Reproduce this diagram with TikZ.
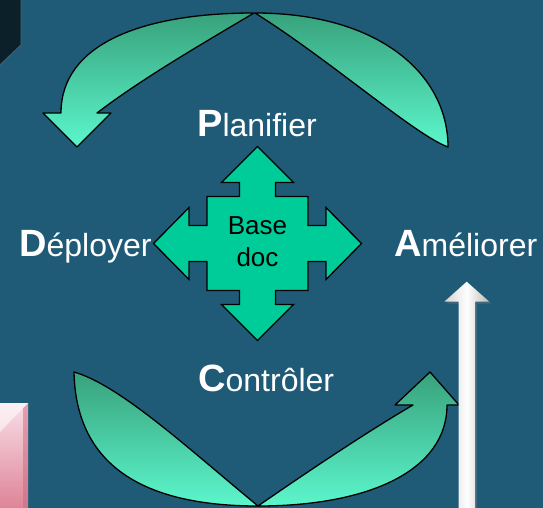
\documentclass[tikz,border=0pt]{standalone}
\usepackage{fontspec}
\setmainfont{Liberation Sans}
\usetikzlibrary{shadows}
\definecolor{bgc}{RGB}{31,91,119}
\definecolor{darkc}{RGB}{12,32,42}
\definecolor{crossc}{RGB}{0,204,153}
\definecolor{gtop}{RGB}{56,162,124}
\definecolor{gbot}{RGB}{92,246,204}
\definecolor{pinktop}{RGB}{248,222,230}
\definecolor{pinkbot}{RGB}{222,132,152}
\definecolor{pinkside}{RGB}{205,120,140}
\tikzset{
  leaf/.style={draw=black, line width=1.3pt, line join=round, top color=gtop, bottom color=gbot},
  crossbox/.style={draw=black, line width=1.3pt, line join=miter, fill=crossc},
  lbl/.style={text=white, inner sep=0pt, anchor=base west, font=\fontsize{32}{32}\selectfont},
  basetxt/.style={text=black, inner sep=0pt, anchor=base, font=\fontsize{26}{26}\selectfont},
}
\newcommand{\bigletter}[1]{{\bfseries\fontsize{38}{38}\selectfont #1}}
\begin{document}
\begin{tikzpicture}[x=1pt,y=-1pt]
\fill[bgc] (0,0) rectangle (543,508);
\useasboundingbox (0,0) rectangle (543,508);
% dark top-left shape
\fill[darkc] (0,0) -- (21,0) -- (21,45) -- (0,65) -- cycle;
\draw[color={rgb,255:red,70;green,95;blue,110}, line width=1pt] (21,0) -- (21,45) -- (0,65);
% pink box bottom-left
\shade[top color=pinktop, bottom color=pinkbot] (0,403) rectangle (28,508);
\shade[top color=pinkbot!70!pinktop, bottom color=pinkside] (23,408) -- (28,403) -- (28,508) -- (23,508) -- cycle;
\fill[white, opacity=0.55] (0,403) -- (28,403) -- (23,408) -- (0,432) -- cycle;
% top-left curved arrow
\path[leaf] (254,13) .. controls (140,13) and (61,45) .. (61,113)
  -- (43,113) -- (77,147) -- (111,113) -- (97,113)
  .. controls (140,80) and (200,45) .. (254,13) -- cycle;
% top-right lens
\path[leaf] (255,13) .. controls (380,13) and (448,75) .. (448,147)
  .. controls (415,135) and (330,60) .. (255,13) -- cycle;
% bottom-left lens
\path[leaf] (74,372) .. controls (76,470) and (150,506) .. (258,506)
  .. controls (190,450) and (120,385) .. (74,372) -- cycle;
% bottom-right curved arrow
\path[leaf] (258,506) .. controls (370,506) and (447,470) .. (447,405)
  -- (459,405) -- (430,372) -- (395,405) -- (413,405)
  .. controls (370,430) and (310,470) .. (258,506) -- cycle;
% white arrow
\shade[left color=gray!35, right color=gray!55, middle color=white, drop shadow={opacity=0.35, shadow xshift=2pt, shadow yshift=-2pt}]
  (458.7,530) -- (458.7,301.7) -- (444.3,301.7) -- (466.7,281.7) -- (489.3,301.7) -- (475,301.7) -- (475,530) -- cycle;
% central cross
\begin{scope}[shift={(257.5,243.5)}]
\path[crossbox] (0,-97) -- (36,-61) -- (18,-61) -- (18,-47) -- (50.5,-47) -- (50.5,-18)
  -- (68.5,-18) -- (68.5,-36) -- (104,0) -- (68.5,36) -- (68.5,18) -- (50.5,18)
  -- (50.5,47) -- (18,47) -- (18,61) -- (36,61) -- (0,97) -- (-36,61) -- (-18,61)
  -- (-18,47) -- (-50.5,47) -- (-50.5,18) -- (-68.5,18) -- (-68.5,36) -- (-104,0)
  -- (-68.5,-36) -- (-68.5,-18) -- (-50.5,-18) -- (-50.5,-47) -- (-18,-47)
  -- (-18,-61) -- (-36,-61) -- cycle;
\end{scope}
\node[basetxt] (base1) at (257.5,234.3) {Base};
\node[basetxt] (base2) at (257.5,266) {doc};
% labels
\node[lbl] (plan) at (197,136.7) {\bigletter{P}lanifier};
\node[lbl] (depl) at (19,256) {\bigletter{D}éployer};
\node[lbl] (amel) at (394,256) {\bigletter{A}méliorer};
\node[lbl] (ctrl) at (198,391) {\bigletter{C}ontrôler};
\end{tikzpicture}
\end{document}
